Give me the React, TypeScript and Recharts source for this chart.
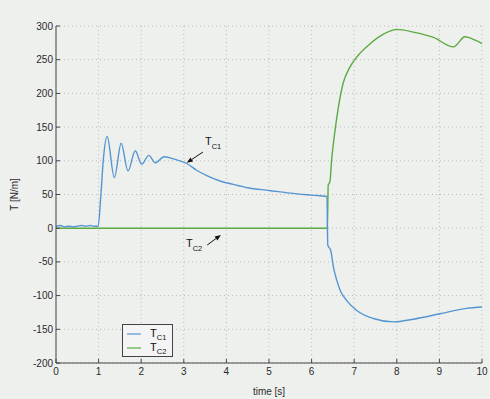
import React from "react";
import { LineChart, Line, XAxis, YAxis, CartesianGrid, ReferenceLine } from "recharts";

// T_C1: clutch 1 torque [N/m] over time [s]
const C1_TIME = [
  0, 0.1, 0.2, 0.3, 0.4, 0.5, 0.6, 0.7, 0.8, 0.9, 0.99, 1.05, 1.11, 1.2, 1.37,
  1.53, 1.69, 1.86, 2.01, 2.18, 2.33, 2.54, 2.8, 3.07, 3.3, 3.54, 3.85, 4.16,
  4.5, 5.0, 5.5, 6.0, 6.36, 6.38, 6.45, 6.51, 6.59, 6.67, 6.82, 7.06, 7.45,
  7.92, 8.39, 9.01, 9.64, 10,
];
const C1_TORQUE = [
  3, 4, 2, 3, 2, 3, 4, 3, 4, 3, 3, 46, 101, 136, 75,
  126, 85, 115, 95, 108, 97, 106, 102, 96, 86, 78, 70, 65,
  60, 56, 52, 49, 47, -25, -33, -57, -77, -92, -107, -122, -134,
  -139, -135, -127, -119, -117,
];

// T_C2: clutch 2 torque [N/m] over time [s]
const C2_TIME = [
  0, 6.37, 6.39, 6.43, 6.47, 6.55, 6.63, 6.74, 6.9, 7.06, 7.29, 7.61, 8.0,
  8.39, 8.86, 9.33, 9.6, 9.84, 10,
];
const C2_TORQUE = [
  0, 0, 64, 69, 101, 145, 180, 215, 239, 254, 269, 285, 295,
  291, 283, 269, 284, 279, 274,
];

const X_TICKS = [0, 1, 2, 3, 4, 5, 6, 7, 8, 9, 10];
const Y_TICKS = [-200, -150, -100, -50, 0, 50, 100, 150, 200, 250, 300];

const SERIES_SUBS = ["C1", "C2"];

// arrow annotations: [tail, tip] in (time, torque)
const C1_ARROW = [
  [3.45, 113],
  [3.07, 97],
];
const C2_ARROW = [
  [3.55, -25],
  [3.87, -10],
];

const FONT = '"Liberation Sans", Arial, Helvetica, sans-serif';
const BLUE = "#5596d2";
const GREEN = "#5cab40";
const INK = "#2a2a2a";
const BG = "#eef0ee";

const c1 = C1_TIME.map((t, i) => ({ t, v: C1_TORQUE[i] }));
const c2 = C2_TIME.map((t, i) => ({ t, v: C2_TORQUE[i] }));
const COLORS = [BLUE, GREEN];

const noTick = () => <g />;

function arrowShape(sub: string, dx: number, dy: number, anchor: "start" | "end") {
  return (p: any) => {
    const { x1, y1, x2, y2 } = p;
    const a = Math.atan2(y2 - y1, x2 - x1);
    const len = 6;
    const half = 2.4;
    const bx = x2 - len * Math.cos(a);
    const by = y2 - len * Math.sin(a);
    const px = -Math.sin(a) * half;
    const py = Math.cos(a) * half;
    return (
      <g>
        <line x1={x1} y1={y1} x2={bx} y2={by} stroke="#111" strokeWidth={1} />
        <polygon
          points={`${x2},${y2} ${bx + px},${by + py} ${bx - px},${by - py}`}
          fill="#111"
        />
        <text
          x={x1 + dx}
          y={y1 + dy}
          textAnchor={anchor}
          fontFamily={FONT}
          fontSize={11}
          fill="#111"
        >
          T
          <tspan dy={4} fontSize={7.5}>
            {sub}
          </tspan>
        </text>
      </g>
    );
  };
}

function LegendBox() {
  return (
    <svg
      width={51}
      height={33}
      style={{ position: "absolute", left: 122, top: 324 }}
    >
      <rect x={0.5} y={0.5} width={50} height={32} fill="#f3f4f3" stroke="#444" />
      {SERIES_SUBS.map((s, i) => (
        <g key={s}>
          <line x1={5} x2={19} y1={10 + i * 14} y2={10 + i * 14} stroke={COLORS[i]} strokeWidth={1.2} />
          <text x={28} y={13 + i * 14} fontFamily={FONT} fontSize={11} fill="#111">
            T
            <tspan dy={3} fontSize={7.5}>
              {s}
            </tspan>
          </text>
        </g>
      ))}
    </svg>
  );
}

export default function App() {
  const tickStyle = { fontSize: 10, fill: INK, fontFamily: FONT };
  return (
    <div
      style={{
        position: "absolute",
        left: 0,
        top: 0,
        width: 490,
        height: 399,
        background: BG,
        fontFamily: FONT,
      }}
    >
      <LineChart
        width={490}
        height={399}
        margin={{ top: 26, right: 8, bottom: 0, left: 16 }}
      >
        <CartesianGrid stroke="#b9bcb9" strokeDasharray="1 3" />
        <XAxis
          dataKey="t"
          type="number"
          domain={[0, 10]}
          ticks={X_TICKS}
          allowDataOverflow
          height={36}
          tickSize={-4}
          tickMargin={9}
          stroke="#444"
          tick={tickStyle}
          label={{
            value: "time [s]",
            position: "insideBottom",
            offset: 4,
            style: { fontSize: 10, fill: INK, fontFamily: FONT },
          }}
        />
        <XAxis
          xAxisId="top"
          orientation="top"
          dataKey="t"
          type="number"
          domain={[0, 10]}
          ticks={X_TICKS}
          height={0}
          tickSize={-4}
          stroke="#444"
          tick={noTick}
          label={{
            value: "clutch torques",
            position: "top",
            offset: 9,
            style: { fontSize: 10, fill: INK, fontFamily: FONT },
          }}
        />
        <YAxis
          type="number"
          domain={[-200, 300]}
          ticks={Y_TICKS}
          allowDataOverflow
          width={40}
          tickSize={-4}
          tickMargin={7}
          stroke="#444"
          tick={tickStyle}
          label={{
            content: ({ viewBox }: any) => (
              <text
                x={viewBox.x - 1}
                y={viewBox.y + viewBox.height / 2}
                transform={`rotate(-90 ${viewBox.x - 1} ${viewBox.y + viewBox.height / 2})`}
                textAnchor="middle"
                dominantBaseline="middle"
                fontSize={10}
                fill={INK}
                fontFamily={FONT}
              >
                T [N/m]
              </text>
            ),
          }}
        />
        <YAxis
          yAxisId="right"
          orientation="right"
          type="number"
          domain={[-200, 300]}
          ticks={Y_TICKS}
          width={0}
          tickSize={-4}
          stroke="#444"
          tick={noTick}
        />
        <Line
          data={c2}
          dataKey="v"
          type="monotone"
          stroke={GREEN}
          strokeWidth={1.4}
          dot={false}
          isAnimationActive={false}
        />
        <Line
          data={c1}
          dataKey="v"
          type="monotone"
          stroke={BLUE}
          strokeWidth={1.4}
          dot={false}
          isAnimationActive={false}
        />
        <ReferenceLine
          segment={[
            { x: C1_ARROW[0][0], y: C1_ARROW[0][1] },
            { x: C1_ARROW[1][0], y: C1_ARROW[1][1] },
          ]}
          shape={arrowShape(SERIES_SUBS[0], 2, -7, "start")}
        />
        <ReferenceLine
          segment={[
            { x: C2_ARROW[0][0], y: C2_ARROW[0][1] },
            { x: C2_ARROW[1][0], y: C2_ARROW[1][1] },
          ]}
          shape={arrowShape(SERIES_SUBS[1], -5, 2, "end")}
        />
      </LineChart>
      <LegendBox />
    </div>
  );
}
